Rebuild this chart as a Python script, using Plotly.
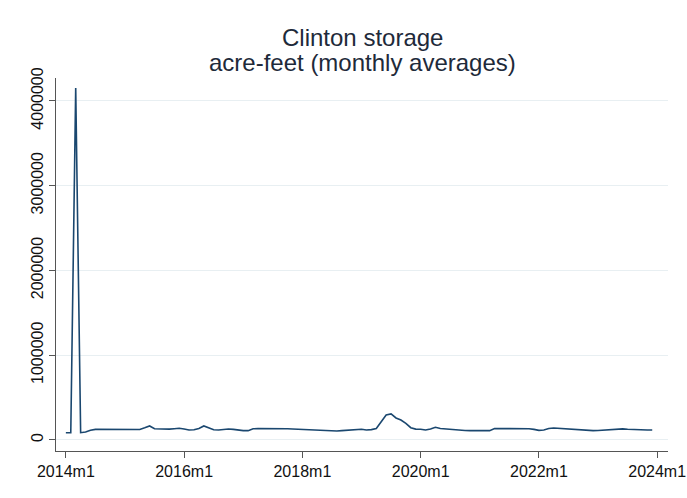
import plotly.graph_objects as go

# Monthly average storage at Clinton, 2014m1 .. 2023m12 (acre-feet)
start_month = 648  # Stata %tm value for 2014m1
storage = [
    86000, 86000, 4152000, 86000, 95000, 115000, 125000, 124000, 123000, 122000,
    122000, 122000, 122000, 122000, 122000, 123000, 143000, 165000, 132000, 130000,
    129000, 128000, 133000, 138000, 130000, 118000, 120000, 135000, 165000, 140000,
    120000, 117000, 125000, 130000, 125000, 115000, 110000, 110000, 132000, 134000,
    134000, 135000, 138000, 136000, 134000, 132000, 129000, 126000, 122000, 123000,
    122000, 121000, 118000, 113000, 108000, 106000, 110000, 116000, 122000, 124000,
    126000, 118000, 122000, 135000, 220000, 295000, 307000, 260000, 236000, 197000,
    145000, 128000, 127000, 118000, 130000, 150000, 136000, 130000, 124000, 122000,
    114000, 112000, 110000, 110000, 110000, 110000, 110000, 135000, 138000, 134000,
    134000, 134000, 134000, 134000, 133000, 125000, 114000, 118000, 135000, 142000,
    138000, 128000, 122000, 118000, 115000, 112000, 110000, 110000, 112000, 116000,
    123000, 130000, 134000, 131000, 126000, 122000, 120000, 119000, 118000, 118000,
]
months = [start_month + i for i in range(len(storage))]

title_lines = ["Clinton storage", "acre-feet (monthly averages)"]
x_tick_vals = [648, 672, 696, 720, 744, 768]
x_tick_text = ["2014m1", "2016m1", "2018m1", "2020m1", "2022m1", "2024m1"]
y_tick_vals = [0, 1000000, 2000000, 3000000, 4000000]
y_tick_text = ["0", "1000000", "2000000", "3000000", "4000000"]

FONT = "Liberation Sans, Arial, sans-serif"

fig = go.Figure(
    go.Scatter(
        x=months,
        y=storage,
        mode="lines",
        line=dict(color="#1a476f", width=1.6),
        hoverinfo="x+y",
    )
)

# two-line title, each line placed on its own so the line spacing stays tight
plot_h = 498 - 78 - 47
for line_text, ypix in zip(title_lines, [38, 63]):
    fig.add_annotation(
        text=line_text,
        xref="paper", yref="paper",
        x=0.5,
        y=1 + (78 - ypix) / plot_h,
        xanchor="center", yanchor="middle",
        showarrow=False,
        font=dict(family=FONT, size=24, color="#1e2a3a"),
    )

axis_font = dict(family=FONT, size=16, color="#111111")

fig.update_layout(
    width=687,
    height=498,
    margin=dict(l=56, r=19, t=78, b=47),
    paper_bgcolor="white",
    plot_bgcolor="white",
    showlegend=False,
    xaxis=dict(
        range=[646, 770.2],
        automargin=False,
        tickmode="array",
        tickvals=x_tick_vals,
        ticktext=x_tick_text,
        ticks="outside",
        ticklen=6,
        tickcolor="#555555",
        showline=True,
        linecolor="#555555",
        linewidth=1.2,
        showgrid=False,
        zeroline=False,
        tickfont=axis_font,
    ),
    yaxis=dict(
        range=[-130000, 4270000],
        automargin=False,
        tickmode="array",
        tickvals=y_tick_vals,
        ticktext=y_tick_text,
        tickangle=-90,
        ticks="outside",
        ticklen=6,
        tickcolor="#555555",
        showline=True,
        linecolor="#555555",
        linewidth=1.2,
        showgrid=True,
        gridcolor="#e8eff2",
        gridwidth=1,
        zeroline=False,
        tickfont=axis_font,
    ),
)

fig.write_html("out.html")
